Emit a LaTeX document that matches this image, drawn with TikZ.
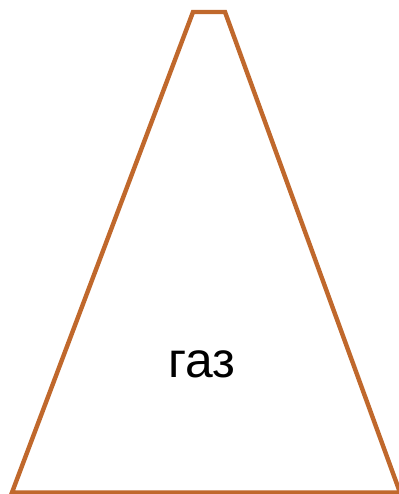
\documentclass[tikz,border=0pt]{standalone}
\usepackage{fontspec}
\setmainfont{Liberation Sans}
\usepackage{xcolor}
\definecolor{rust}{RGB}{192,104,44}

\begin{document}
\begin{tikzpicture}[x=1bp,y=1bp,
  wall/.style={draw=rust,line width=4.4bp,line join=miter},
  lbl/.style={font=\fontsize{50}{58}\selectfont,inner sep=0pt}]
  \useasboundingbox (0,0) rectangle (398,494);
  \fill[white] (0,0) rectangle (398,494);
  \draw[wall] (12,1.5) -- (193,482) -- (225,482) -- (400,1.5) -- cycle;
  \node[lbl,anchor=base] (gas) at (202,116) {газ};
\end{tikzpicture}
\end{document}
